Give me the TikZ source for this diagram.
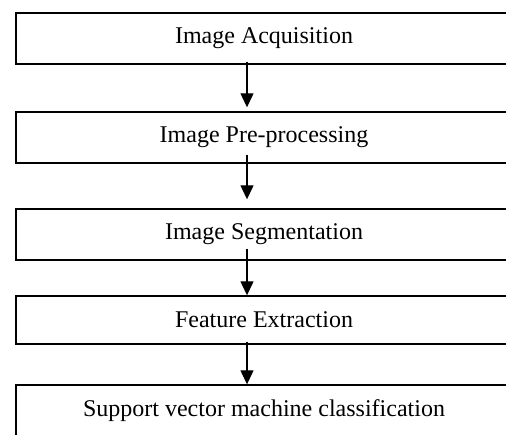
\documentclass[tikz,border=0pt]{standalone}
\usepackage{fontspec}
\setmainfont{Liberation Serif}
\usetikzlibrary{arrows.meta}

\begin{document}
\begin{tikzpicture}[x=0.5pt,y=-0.5pt,
  stage/.style={draw, line width=0.7pt, minimum width=248pt, minimum height=25.5pt,
    inner sep=0pt, font=\fontsize{12}{14}\selectfont},
  flow/.style={line width=0.6pt, -{Triangle[length=7pt,width=6.5pt]}}]
\useasboundingbox (0,0) rectangle (506,434);
\clip (0,0) rectangle (506,434);

% --- processing stages, one box per step ---
\node[stage] (acq) at (264,38.5) {Image Acquisition};
\node[stage] (pre) at (264,137.5) {Image Pre-processing};
\node[stage] (seg) at (264,234.5) {Image Segmentation};
\node[stage, minimum height=24pt] (feat) at (264,320) {Feature Extraction};
\node[stage] (svm) at (264,410.5) {Support vector machine classification};

% --- arrows between stages, all on one vertical line ---
\coordinate (axis) at (247,0);
\draw[flow, shorten >=2pt] ([yshift=1.5pt]acq.south -| axis) -- (pre.north -| axis);
\draw[flow, shorten >=4.5pt] ([yshift=4.5pt]pre.south -| axis) -- (seg.north -| axis);
\draw[flow] ([yshift=6pt]seg.south -| axis) -- (feat.north -| axis);
\draw[flow] ([yshift=1.5pt]feat.south -| axis) -- (svm.north -| axis);
\end{tikzpicture}
\end{document}
